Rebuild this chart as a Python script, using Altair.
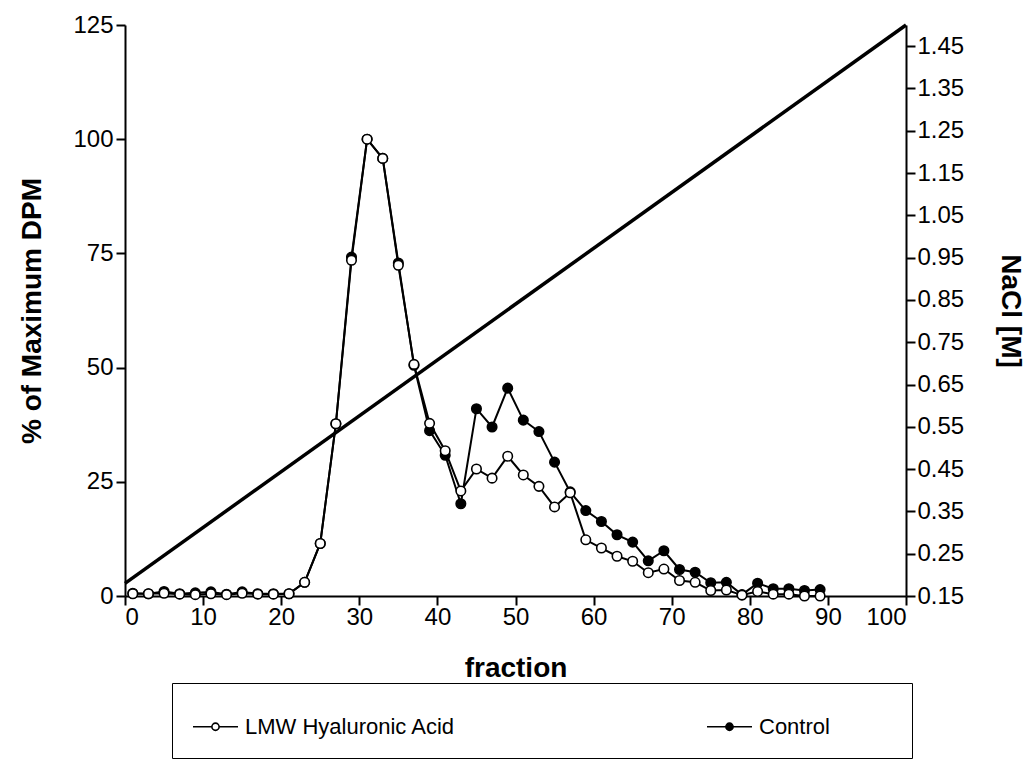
import altair as alt
import pandas as pd

# ---- data ----
fractions = list(range(1, 90, 2))
lmw = [0.5, 0.5, 0.6, 0.4, 0.3, 0.5, 0.3, 0.6, 0.4, 0.4, 0.5, 3.0, 11.5, 37.7, 73.5,
       100.0, 95.8, 72.4, 50.7, 37.8, 31.8, 23.0, 27.8, 25.8, 30.6, 26.5, 24.0, 19.5,
       22.6, 12.3, 10.5, 8.7, 7.6, 5.1, 5.9, 3.4, 3.0, 1.2, 1.3, 0.2, 1.0, 0.4, 0.4,
       0.0, 0.0]
control = [0.6, 0.5, 1.0, 0.5, 0.7, 0.9, 0.4, 0.9, 0.5, 0.5, 0.5, 3.0, 11.5, 37.7, 74.2,
           100.0, 95.8, 72.9, 50.5, 36.2, 30.8, 20.2, 41.0, 37.0, 45.5, 38.5, 36.0, 29.3,
           22.8, 18.7, 16.3, 13.4, 11.8, 7.7, 9.9, 5.8, 5.2, 2.9, 3.0, 0.3, 2.8, 1.6, 1.6,
           1.2, 1.4]
nacl_fraction = [0, 100]
nacl_molar = [0.18, 1.5]

series_names = ["LMW Hyaluronic Acid", "Control"]
x_ticks = list(range(0, 101, 10))
left_ticks = [0, 25, 50, 75, 100, 125]
right_ticks = [0.15, 0.25, 0.35, 0.45, 0.55, 0.65, 0.75, 0.85, 0.95, 1.05, 1.15, 1.25, 1.35, 1.45]

FONT = "Liberation Sans"
LABEL_SIZE = 24
TITLE_SIZE = 28

n = len(fractions)
df = pd.DataFrame({
    "fraction": fractions + fractions,
    "dpm": control + lmw,
    "series": ["Control"] * n + ["LMW Hyaluronic Acid"] * n,
})
nacl_df = pd.DataFrame({"fraction": nacl_fraction, "nacl": nacl_molar})

common_axis = dict(tickSize=9, tickWidth=2, domainWidth=2, domainColor="black",
                   tickColor="black", labelFontSize=LABEL_SIZE, labelColor="black",
                   labelFont=FONT, titleFont=FONT, titleFontSize=TITLE_SIZE,
                   titleFontWeight="bold", titleColor="black", grid=False)

x_axis = alt.Axis(values=x_ticks, title="fraction", labelPadding=0, titlePadding=25,
                  **common_axis)
left_axis = alt.Axis(orient="left", values=left_ticks, title="% of Maximum DPM",
                     labelPadding=3, titlePadding=26, **common_axis)
right_axis = alt.Axis(orient="right", values=right_ticks, format=".2f",
                      title="NaCl [M]", labelPadding=2, titlePadding=32, **common_axis)

x_scale = alt.Scale(domain=[0, 100], nice=False)
y_scale = alt.Scale(domain=[0, 125], nice=False)

lines = alt.Chart(df).mark_line(color="black", strokeWidth=2).encode(
    x=alt.X("fraction:Q", scale=x_scale, axis=x_axis),
    y=alt.Y("dpm:Q", scale=y_scale, axis=left_axis),
    detail="series:N",
)

legend_symbol = ("M-1,0L-0.16,0M0.16,0L1,0M0.16,0A0.16,0.16,0,1,1,-0.16,0"
                 "A0.16,0.16,0,1,1,0.16,0Z")

# trailing non-breaking spaces (closed by a zero-width space so they are kept)
pad = "\u00a0" * 10 + "\u200b"

points = alt.Chart(df).mark_point(filled=True, size=90, stroke="black",
                                  strokeWidth=1.6, opacity=1).encode(
    x=alt.X("fraction:Q", scale=x_scale, axis=x_axis),
    y=alt.Y("dpm:Q", scale=y_scale, axis=left_axis),
    fill=alt.Fill("series:N",
                  scale=alt.Scale(domain=series_names, range=["white", "black"]),
                  legend=alt.Legend(
                      title=None, orient="none", legendX=47, legendY=658,
                      direction="horizontal", columns=2, columnPadding=247,
                      symbolType=legend_symbol, symbolSize=2025,
                      symbolStrokeColor="black", symbolStrokeWidth=1.6,
                      labelFont=FONT, labelFontSize=22, labelColor="black",
                      labelOffset=6, labelLimit=600,
                      labelExpr="datum.label == 'Control' ? 'Control" + pad + "' : datum.label",
                      padding=20, strokeColor="black",
                      fillColor="white")),
)

nacl = alt.Chart(nacl_df).mark_line(color="black", strokeWidth=3.5).encode(
    x=alt.X("fraction:Q", scale=x_scale, axis=x_axis),
    y=alt.Y("nacl:Q", scale=alt.Scale(domain=[0.15, 1.5], nice=False, zero=False),
            axis=right_axis),
)

dpm_layer = alt.layer(lines, points)

chart = alt.layer(dpm_layer, nacl).resolve_scale(y="independent").properties(
    width=781, height=571,
    padding={"left": 125, "top": 25, "right": 126, "bottom": 179},
    autosize=alt.AutoSizeParams(type="none"),
    background="white",
).configure_view(stroke=None)

chart.save("out.html", embed_options={"renderer": "svg", "actions": False})
